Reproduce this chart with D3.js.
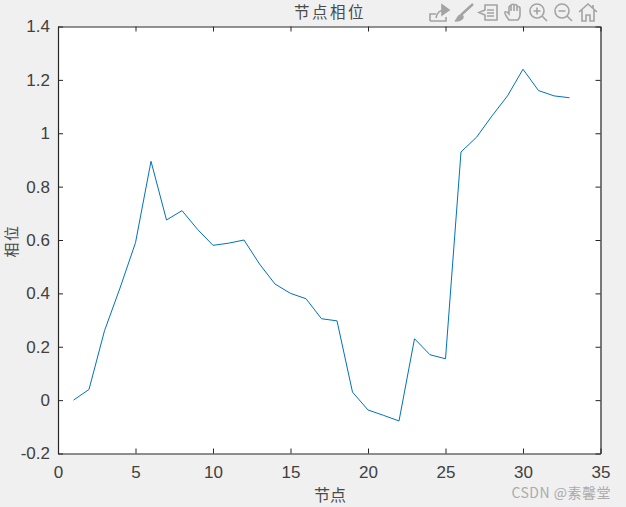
<!DOCTYPE html>
<html><head><meta charset="utf-8">
<script src="https://cdn.jsdelivr.net/npm/d3@7/dist/d3.min.js"></script>
<style>html,body{margin:0;padding:0;background:#f0f0f0;overflow:hidden}svg{display:block}</style>
</head><body><svg id="c" width="626" height="507"></svg>
<script>
const nodes=[1,2,3,4,5,6,7,8,9,10,11,12,13,14,15,16,17,18,19,20,21,22,23,24,25,26,27,28,29,30,31,32,33];
const phase=[0,0.04,0.26,0.42,0.59,0.895,0.675,0.71,0.64,0.58,0.588,0.6,0.51,0.435,0.4,0.38,0.305,0.297,0.03,-0.037,-0.057,-0.078,0.23,0.17,0.155,0.93,0.985,1.065,1.14,1.24,1.16,1.14,1.133];
const xTicks=[0,5,10,15,20,25,30,35];
const yTicks=[-0.2,0,0.2,0.4,0.6,0.8,1,1.2,1.4];
const titleText="节点相位", xLabel="节点", yLabel="相位", watermark="CSDN @素馨堂";
const L=58,R=600.5,T=26.5,B=453.5;
const ink="#262626",tc="#404040";
const svg=d3.select("#c");
const x=d3.scaleLinear().domain([0,35]).range([L,R]);
const y=d3.scaleLinear().domain([-0.2,1.4]).range([B,T]);
svg.append("rect").attr("x",L).attr("y",T).attr("width",R-L).attr("height",B-T).attr("fill","#fff");
const sans="'Liberation Sans',Arial,sans-serif",cjk="'Noto Sans CJK SC',sans-serif";
const fmt=d=>String(d);
function axis(gen,tx,ty,labels){
  const g=svg.append("g").attr("transform",`translate(${tx},${ty})`).call(gen);
  g.selectAll(".domain").attr("stroke",ink).attr("stroke-width",1.2);
  g.selectAll("line").attr("stroke",ink).attr("stroke-width",1);
  g.selectAll("text").attr("font-family",sans).attr("font-size",17).attr("fill",tc);
  if(!labels)g.selectAll("text").remove();
  return g;
}
axis(d3.axisBottom(x).tickValues(xTicks).tickSize(-5).tickSizeOuter(0).tickPadding(12).tickFormat(fmt),0,B,true);
axis(d3.axisTop(x).tickValues(xTicks).tickSize(-5).tickSizeOuter(0),0,T,false);
axis(d3.axisLeft(y).tickValues(yTicks).tickSize(-5).tickSizeOuter(0).tickPadding(8).tickFormat(fmt),L,0,true);
axis(d3.axisRight(y).tickValues(yTicks).tickSize(-5).tickSizeOuter(0),R,0,false);
svg.append("path").datum(nodes.map((n,i)=>[n,phase[i]]))
  .attr("d",d3.line().x(d=>x(d[0])).y(d=>y(d[1])))
  .attr("fill","none").attr("stroke","#0072bd").attr("stroke-width",1);
const txt=(s,px,py,fs,fill,fam)=>svg.append("text").text(s).attr("x",px).attr("y",py).attr("text-anchor","middle").attr("font-size",fs).attr("fill",fill).attr("font-family",fam||cjk);
txt(titleText,330,18,15.5,"#4a4a4a").attr("letter-spacing",2.5);
txt(xLabel,330,501,16,"#4a4a4a");
txt(yLabel,0,0,15,"#4a4a4a").attr("letter-spacing",1.5).attr("transform","translate(17,241) rotate(-90)");
svg.append("text").text(watermark).attr("x",611).attr("y",498).attr("text-anchor","end").attr("font-size",14).attr("letter-spacing",0.5).attr("fill","#ababab").attr("font-family",cjk);
// toolbar glyphs
const tb=svg.append("g").attr("fill","none").attr("stroke","#a3a3a3").attr("stroke-width",1.6);
tb.append("path").attr("d","M430 21V14H436M430 21H446V17M436 18C437 12 441 10 445 10");
tb.append("path").attr("d","M442 5L449 10L442 15Z").attr("fill","#a3a3a3");
tb.append("path").attr("d","M473 4L461 15").attr("stroke-width",2.4);
tb.append("path").attr("d","M455 21C458 20 457 15 461 15C465 16 463 21 455 21Z").attr("fill","#a3a3a3");
tb.append("path").attr("d","M485 10L479 12.5L485 15V20H497V5H485ZM487 10H494M487 13H494M487 16H494");
tb.append("path").attr("d","M509 20C506 16 504 13 505 12C507 11 508 13 509 14V7C510 5 511 6 511 7V11V5C512 4 514 4 514 5V11V5C515 4 517 5 517 6V11V7C518 6 520 7 520 8V15C520 18 519 19 518 20Z");
tb.append("circle").attr("cx",537).attr("cy",11).attr("r",7);
tb.append("path").attr("d","M533.500 11H540.500M537 7.500V14.500M542 16L547 21");
tb.append("circle").attr("cx",562).attr("cy",11).attr("r",7);
tb.append("path").attr("d","M558.500 11H565.500M567 16L572 21");
tb.append("path").attr("d","M579 12L588 4L597 12M582 10V21H586V15H590V21H594V10M593 5V8");
</script></body></html>
